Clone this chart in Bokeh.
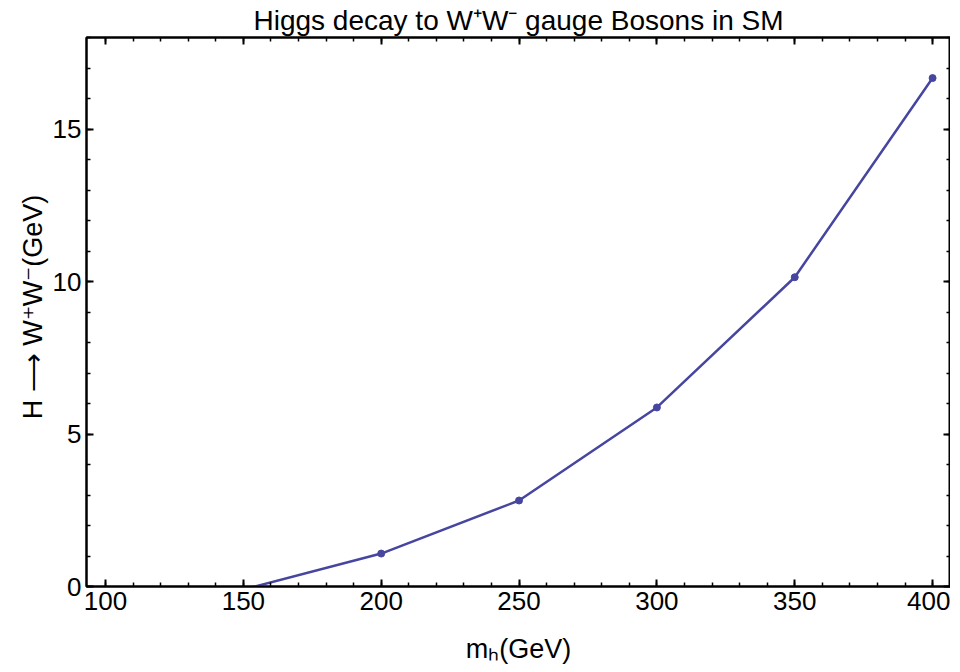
from bokeh.plotting import figure
from bokeh.models import LinearAxis, SingleIntervalTicker, Range1d
from bokeh.embed import file_html
from bokeh.resources import INLINE

# Data
m_h = [150, 200, 250, 300, 350, 400]
width_ww = [-0.1, 1.08, 2.82, 5.87, 10.14, 16.67]

FONT = "Liberation Sans"
LINE_COLOR = "#4646a0"

p = figure(width=950, height=666, output_backend="svg", toolbar_location=None,
           x_range=Range1d(93.1, 406.5), y_range=Range1d(0, 18.0),
           min_border_left=86, min_border_right=0, min_border_bottom=0,
           min_border_top=0)

p.title.text = "Higgs decay to W\u207aW\u207b gauge Bosons in SM"
p.title.text_font = FONT
p.title.text_font_size = "28px"
p.title.text_font_style = "normal"
p.title.text_color = "black"
p.title.align = "center"
p.title.standoff = 4
p.title.offset = 0

p.xgrid.visible = False
p.ygrid.visible = False
p.outline_line_color = "black"
p.outline_line_width = 2

def style_axis(ax, show_labels=True):
    ax.axis_line_color = "black"
    ax.axis_line_width = 2
    ax.major_tick_in = 7
    ax.major_tick_out = 0
    ax.minor_tick_in = 4
    ax.minor_tick_out = 0
    ax.major_tick_line_width = 2
    ax.minor_tick_line_width = 1.5
    ax.major_label_text_font = FONT
    ax.major_label_text_font_size = "26px"
    ax.major_label_text_color = "black" if show_labels else None
    ax.major_label_standoff = 5
    ax.axis_label_text_font = FONT
    ax.axis_label_text_font_size = "27px"
    ax.axis_label_text_font_style = "normal"
    ax.axis_label_text_color = "black"

p.xaxis.ticker = SingleIntervalTicker(interval=50, num_minor_ticks=5)
p.yaxis.ticker = SingleIntervalTicker(interval=5, num_minor_ticks=5)
style_axis(p.xaxis[0])
style_axis(p.yaxis[0])
p.xaxis.axis_label = "m\u2095(GeV)"
p.yaxis.axis_label = "H \u27f6 W\u207aW\u207b(GeV)"
p.xaxis.axis_label_standoff = 21
p.yaxis.axis_label_standoff = 2

top = LinearAxis(ticker=SingleIntervalTicker(interval=50, num_minor_ticks=5))
style_axis(top, show_labels=False)
top.major_label_text_font_size = "0px"
top.major_label_standoff = 0
p.add_layout(top, "above")

right = LinearAxis(ticker=SingleIntervalTicker(interval=5, num_minor_ticks=5))
style_axis(right, show_labels=False)
right.major_label_text_font_size = "0px"
right.major_label_standoff = 0
p.add_layout(right, "right")

p.line(m_h, width_ww, line_color=LINE_COLOR, line_width=2.5)
p.scatter(m_h, width_ww, size=7, fill_color=LINE_COLOR, line_color=LINE_COLOR)

open("out.html", "w").write(file_html(p, INLINE))
